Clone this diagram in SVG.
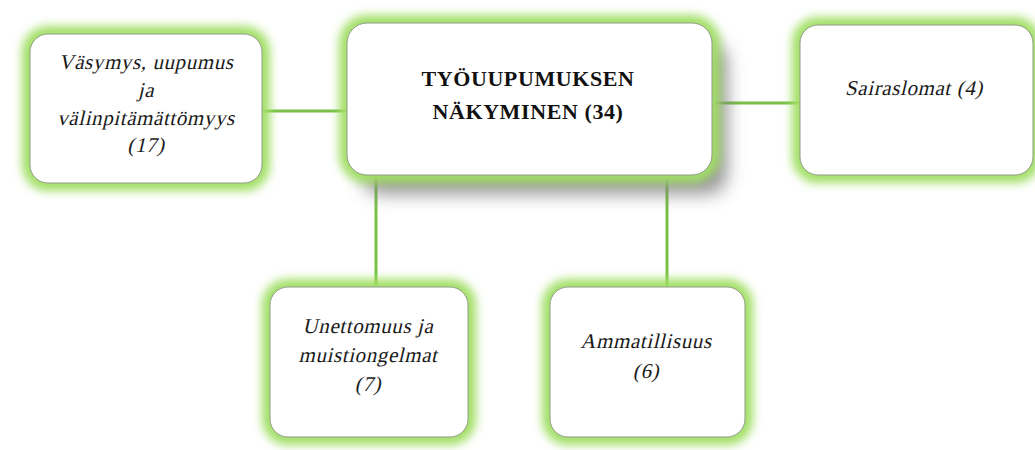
<svg xmlns="http://www.w3.org/2000/svg" width="1035" height="450" viewBox="0 0 1035 450">
<defs>
<filter id="glow" x="-25%" y="-25%" width="150%" height="150%">
<feGaussianBlur stdDeviation="5"/>
</filter>
<filter id="shadow" x="-20%" y="-20%" width="150%" height="160%">
<feGaussianBlur stdDeviation="9"/>
</filter>
</defs>
<style>
.halo{fill:none;stroke:#a2df66;stroke-width:16;filter:url(#glow)}
.box{fill:#ffffff;stroke:#8f9c86;stroke-width:1}
.conn{stroke:#78c046;stroke-width:3;fill:none}
.it{font-family:"Liberation Serif",serif;font-size:21px;letter-spacing:0.6px;fill:#1a1a1a;text-anchor:middle}
.bd{font-family:"Liberation Serif",serif;font-weight:bold;font-size:22px;letter-spacing:0.6px;fill:#111;text-anchor:middle}
</style>
<rect width="1035" height="450" fill="#ffffff"/>
<g id="connectors">
<line class="conn" x1="262" y1="111" x2="347" y2="111"/>
<line class="conn" x1="712" y1="103" x2="800" y2="103"/>
<line class="conn" x1="376" y1="175" x2="376" y2="287"/>
<line class="conn" x1="667" y1="175" x2="667" y2="287"/>
</g>
<g id="n-vasymys">
<rect class="halo" x="30" y="34" width="232" height="149" rx="18"/>
<rect class="box" x="30" y="34" width="232" height="149" rx="18"/>
<text class="it" transform="translate(146 69) skewX(-13)">Väsymys, uupumus</text>
<text class="it" transform="translate(146 97) skewX(-13)">ja</text>
<text class="it" transform="translate(146 125) skewX(-13)">välinpitämättömyys</text>
<text class="it" transform="translate(146 152) skewX(-13)">(17)</text>
</g>
<g id="n-center">
<rect x="362" y="42" width="365" height="152" rx="20" fill="#7a7a7a" opacity="0.8" filter="url(#shadow)"/>
<rect class="halo" x="347" y="23" width="365" height="152" rx="20"/>
<rect class="box" x="347" y="23" width="365" height="152" rx="20"/>
<text class="bd" x="528" y="86">TYÖUUPUMUKSEN</text>
<text class="bd" x="528" y="119">NÄKYMINEN (34)</text>
</g>
<g id="n-sairaslomat">
<rect class="halo" x="800" y="25" width="233" height="150" rx="18"/>
<rect class="box" x="800" y="25" width="233" height="150" rx="18"/>
<text class="it" transform="translate(914 95) skewX(-13)">Sairaslomat (4)</text>
</g>
<g id="n-unettomuus">
<rect class="halo" x="270" y="287" width="198" height="150" rx="18"/>
<rect class="box" x="270" y="287" width="198" height="150" rx="18"/>
<text class="it" transform="translate(368 333) skewX(-13)">Unettomuus ja</text>
<text class="it" transform="translate(368 362) skewX(-13)">muistiongelmat</text>
<text class="it" transform="translate(368 391) skewX(-13)">(7)</text>
</g>
<g id="n-ammatillisuus">
<rect class="halo" x="550" y="287" width="195" height="150" rx="18"/>
<rect class="box" x="550" y="287" width="195" height="150" rx="18"/>
<text class="it" transform="translate(646 348) skewX(-13)">Ammatillisuus</text>
<text class="it" transform="translate(646 378) skewX(-13)">(6)</text>
</g>
</svg>
